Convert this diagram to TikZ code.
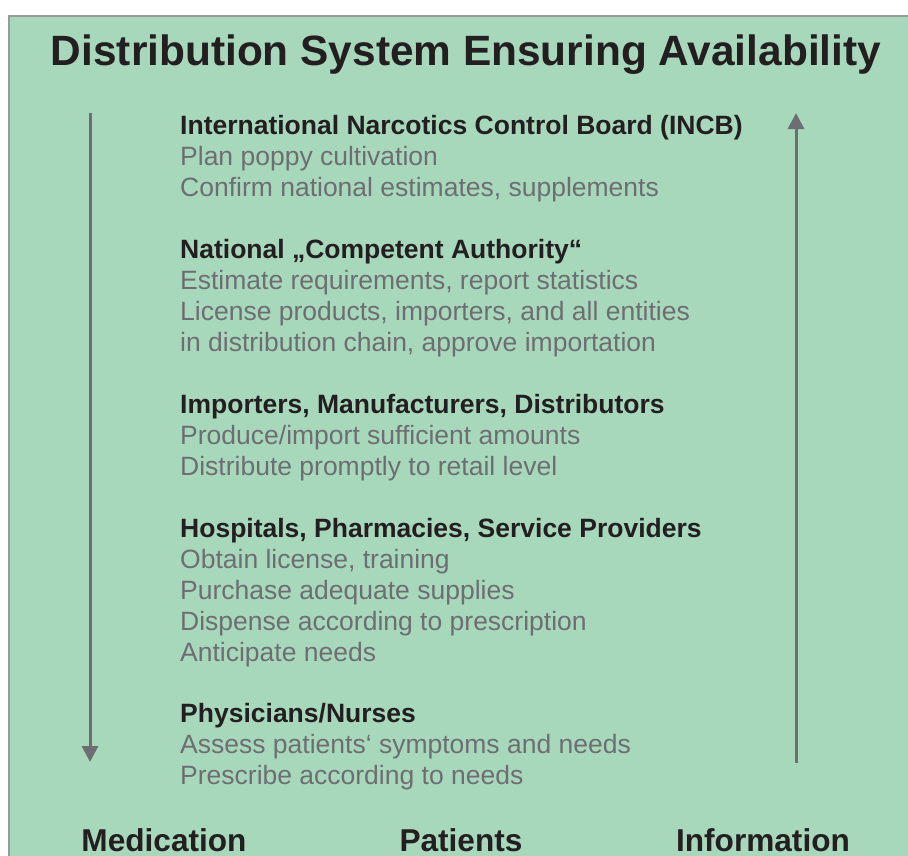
\documentclass[tikz,border=0pt]{standalone}
\usepackage{fontspec}
\setmainfont{Liberation Sans}
\usetikzlibrary{arrows.meta, positioning}
\definecolor{panelgreen}{HTML}{A8D8BC}
\definecolor{framegray}{HTML}{9A9A9A}
\definecolor{inkdark}{HTML}{231F20}
\definecolor{textgray}{HTML}{6D6E71}
\tikzset{
    title/.style={font=\fontsize{42.4}{50}\selectfont\bfseries, text=inkdark, inner sep=0pt, anchor=base},
    entry/.style={font=\fontsize{26.5}{30.95}\selectfont, text=textgray, align=left, inner sep=0pt, anchor=north west},
    footer/.style={font=\fontsize{31.6}{36}\selectfont\bfseries, text=inkdark, inner sep=0pt, anchor=base},
    flow/.style={line width=3pt, draw=textgray, -{Triangle[length=16pt, width=16pt]}}
}
\newcommand{\head}[1]{\strut\textcolor{inkdark}{\bfseries #1}}

\begin{document}
\begin{tikzpicture}[x=1pt, y=-1pt]
        \useasboundingbox (0,0) rectangle (908,855);
        \clip (0,0) rectangle (908,855);
        \draw [framegray, line width=2pt, fill=panelgreen] (8.5,16) rectangle (930,880);
        
        \node (heading) [title] at (466,65) {Distribution System Ensuring Availability};
        
        % Chain of actors
        \node (incb) [entry] at (180,113) {\head{International Narcotics Control Board (INCB)}\\
            Plan poppy cultivation\\
            Confirm national estimates, supplements};
        \node (authority) [entry] at ([yshift=-123.8pt]incb.north west) {\head{National „Competent Authority“}\\
            Estimate requirements, report statistics\\
            License products, importers, and all entities\\
            in distribution chain, approve importation};
        \node (importers) [entry] at ([yshift=-154.75pt]authority.north west) {\head{Importers, Manufacturers, Distributors}\\
            Produce/import sufficient amounts\\
            Distribute promptly to retail level};
        \node (hospitals) [entry] at ([yshift=-123.8pt]importers.north west) {\head{Hospitals, Pharmacies, Service Providers}\\
            Obtain license, training\\
            Purchase adequate supplies\\
            Dispense according to prescription\\
            Anticipate needs};
        \node (physicians) [entry] at ([yshift=-185.7pt]hospitals.north west) {\head{Physicians/Nurses}\\
            Assess patients‘ symptoms and needs\\
            Prescribe according to needs};
        
        % Flow arrows
        \coordinate (med_top) at (90,113);
        \coordinate (med_end) at (90,762);
        \coordinate (info_start) at (796,763);
        \coordinate (info_end) at (796,113);
        \draw [flow] (med_top) -- (med_end);
        \draw [flow] (info_start) -- (info_end);
        
        % Footer labels
        \node (medication) [footer] at (164,851.5) {Medication};
        \node (patients) [footer] at (461,851.5) {Patients};
        \node (information) [footer] at (763,851.5) {Information};
    \end{tikzpicture}
\end{document}
